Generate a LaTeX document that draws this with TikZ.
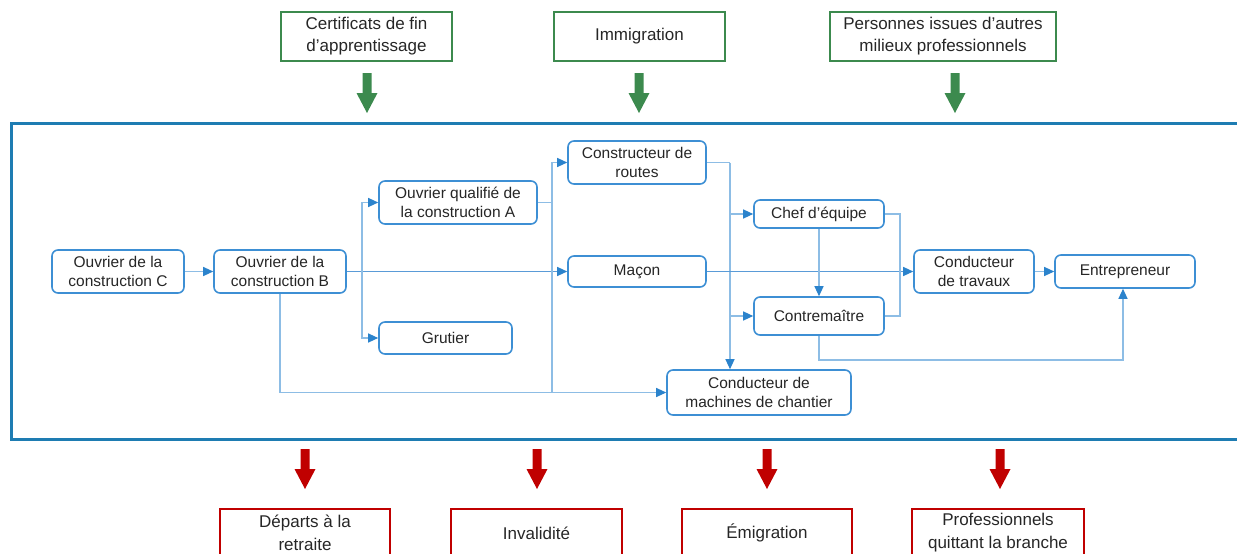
\documentclass[tikz,border=0pt]{standalone}
\usepackage{fontspec}
\setmainfont{Liberation Sans}
\usetikzlibrary{arrows.meta,calc}
\definecolor{framec}{RGB}{30,124,178}
\definecolor{nodec}{RGB}{61,143,212}
\definecolor{linec}{RGB}{141,189,229}
\definecolor{linedark}{RGB}{90,155,215}
\definecolor{tipc}{RGB}{43,131,204}
\definecolor{greenc}{RGB}{60,138,78}
\definecolor{redc}{RGB}{192,0,0}
\definecolor{textc}{RGB}{38,38,38}
\tikzset{
  job/.style={draw=nodec, line width=1.6pt, rounded corners=6pt, fill=white,
    align=center, text=textc, inner sep=0pt,
    font=\fontsize{15.5}{19}\selectfont},
  inbox/.style={draw=greenc, line width=1.8pt, align=center, text=textc, inner sep=0pt,
    font=\fontsize{17}{22}\selectfont},
  outbox/.style={draw=redc, line width=1.8pt, align=center, text=textc, inner sep=0pt,
    font=\fontsize{17}{23}\selectfont},
  conn/.style={draw=linec, line width=1.2pt},
  conndark/.style={draw=linedark, line width=1.2pt},
  tip/.style={-{Triangle[length=10pt,width=9pt,color=tipc]}},
}
\begin{document}
\begin{tikzpicture}[x=1pt,y=-1pt]
\useasboundingbox (0,0) rectangle (1237,554);
\clip (0,0) rectangle (1237,554);

% frame
\draw[framec, line width=3pt] (11,123) rectangle (1260,439);

% top boxes
\node[inbox, minimum width=171pt, minimum height=49pt] (cert) at (366.5,36.5) {Certificats de fin\\d’apprentissage};
\node[inbox, minimum width=171pt, minimum height=49pt] (immi) at (639.5,36.5) {Immigration};
\node[inbox, minimum width=226pt, minimum height=49pt] (pers) at (943,36.5) {Personnes issues d’autres\\milieux professionnels};

% green arrows
\foreach \x in {367,639,955}{
  \fill[greenc] (\x-4.5,73) -- (\x+4.5,73) -- (\x+4.5,93) -- (\x+10.5,93) -- (\x,113) -- (\x-10.5,93) -- (\x-4.5,93) -- cycle;
}
% red arrows
\foreach \x in {305,537,767,1000}{
  \fill[redc] (\x-4.5,449) -- (\x+4.5,449) -- (\x+4.5,469) -- (\x+10.5,469) -- (\x,489) -- (\x-10.5,469) -- (\x-4.5,469) -- cycle;
}

% bottom boxes
\node[outbox, minimum width=170pt, minimum height=48pt] (ret) at (305,533) {Départs à la\\retraite};
\node[outbox, minimum width=171pt, minimum height=48pt] (inv) at (536.5,533) {Invalidité};
\node[outbox, minimum width=170pt, minimum height=48pt] (emi) at (767,533) {Émigration};
\node[outbox, minimum width=172pt, minimum height=48pt] (prof) at (998,533) {Professionnels\\quittant la branche};

% job nodes
\node[job, minimum width=132pt, minimum height=43pt] (C) at (118,271.5) {Ouvrier de la\\construction C};
\node[job, minimum width=132pt, minimum height=43pt] (B) at (280,271.5) {Ouvrier de la\\construction B};
\node[job, minimum width=158pt, minimum height=43pt] (A) at (458,202.5) {Ouvrier qualifié de\\la construction A};
\node[job, minimum width=133pt, minimum height=32pt] (grut) at (445.5,338) {Grutier};
\node[job, minimum width=138pt, minimum height=43pt] (routes) at (637,162.5) {Constructeur de\\routes};
\node[job, minimum width=138pt, minimum height=31pt] (macon) at (637,271.5) {Maçon};
\node[job, minimum width=184pt, minimum height=45pt] (mach) at (759,392.5) {Conducteur de\\machines de chantier};
\node[job, minimum width=130pt, minimum height=28pt] (chef) at (819,214) {Chef d’équipe};
\node[job, minimum width=130pt, minimum height=38pt] (contre) at (819,316) {Contremaître};
\node[job, minimum width=120pt, minimum height=43pt] (trav) at (974,271.5) {Conducteur\\de travaux};
\node[job, minimum width=140pt, minimum height=33pt] (entre) at (1125,271.5) {Entrepreneur};

% junction coordinates
\coordinate (j0) at (362,271.5);
\coordinate (j1) at (552,392.5);
\coordinate (j1a) at (552,202.5);
\coordinate (j2) at (730,162.5);
\coordinate (j3) at (900,271.5);
\coordinate (j4) at (1123,360);

% connectors
\draw[conn, tip] (C.east) -- (B.west);
\draw[conndark, tip] (B.east) -- (macon.west);
\draw[conn, tip] (j0) |- (A.west);
\draw[conn, tip] (j0) |- (grut.west);
\draw[conn, tip] (B.south) |- (mach.west);
\draw[conn] (A.east) -- (j1a);
\draw[conn, tip] (j1) |- (routes.west);
\draw[conn] (routes.east) -- (j2);
\draw[conn, tip] (j2) -- (j2 |- mach.north);
\draw[conn, tip] (j2 |- chef.west) -- (chef.west);
\draw[conn, tip] (j2 |- contre.west) -- (contre.west);
\draw[conndark, tip] (macon.east) -- (trav.west);
\draw[conn] (chef.east) -| (j3);
\draw[conn] (contre.east) -| (j3);
\draw[conn, tip] (chef.south) -- (contre.north);
\draw[conn, tip] (contre.south) |- (j4) -- (j4 |- entre.south);
\draw[conn, tip] (trav.east) -- (entre.west);
\end{tikzpicture}
\end{document}
